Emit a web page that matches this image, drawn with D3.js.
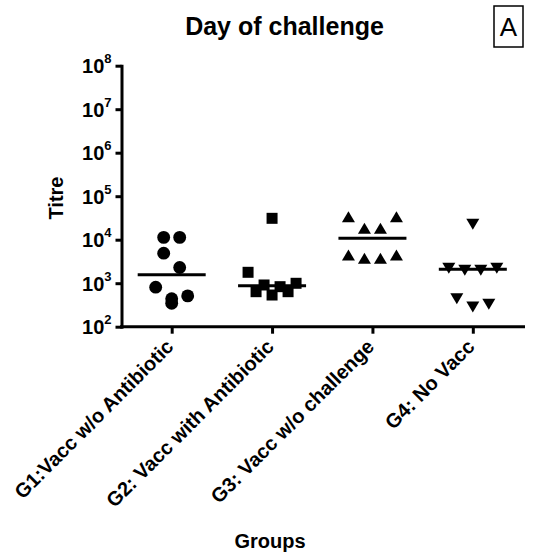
<!DOCTYPE html>
<html>
  <head>
    <meta charset="UTF-8">
    <title>Day of challenge</title>
    <style>
    body {
      margin: 0;
      background-color: white;
    }
    svg text {
      font-family: 'Liberation Sans', Arial, sans-serif;
      fill: black;
    }
    </style>
  </head>
  <body>
  <script src="https://d3js.org/d3.v7.min.js"></script>
  <script>
  // Groups on the x axis
  var groups = ['G1:Vacc w/o Antibiotic', 'G2: Vacc with Antibiotic', 'G3: Vacc w/o challenge', 'G4: No Vacc'];
  // Titre per animal
  var g1Titre = [11300, 11300, 4900, 2300, 810, 510, 440, 345];
  var g2Titre = [31000, 1780, 995, 910, 832, 638, 638, 535];
  var g3Titre = [32000, 32000, 17300, 17300, 4220, 4220, 3540, 3540];
  var g4Titre = [23800, 2320, 2320, 2090, 2090, 464, 345, 299];
  // y axis ticks (powers of ten)
  var yTicks = [1e2, 1e3, 1e4, 1e5, 1e6, 1e7, 1e8];

  var allTitre = [g1Titre, g2Titre, g3Titre, g4Titre];

  var width = 537, height = 554;
  var svg = d3.select('body').append('svg').attr('width', width).attr('height', height);

  var x = d3.scalePoint().domain(groups).range([121.5, 523]).padding(0.5);
  var y = d3.scaleLog().domain([1e2, 1e8]).range([326.7, 65.7]);

  // y axis
  var yAxis = svg.append('g')
    .attr('transform', 'translate(121.5,0)')
    .call(d3.axisLeft(y).tickValues(yTicks).tickSize(6).tickSizeOuter(0).tickPadding(4).tickFormat(function () { return ''; }));
  yAxis.select('.domain').attr('stroke-width', 3).attr('stroke-linecap', 'square');
  yAxis.selectAll('.tick line').attr('stroke-width', 3);
  yAxis.selectAll('.tick text').each(function (d) {
    var t = d3.select(this)
      .attr('font-size', 20).attr('font-weight', 'bold').attr('font-family', null).attr('dy', '0.35em');
    t.append('tspan').text('10');
    t.append('tspan').attr('font-size', 13).attr('dy', '-0.75em').text(Math.round(Math.log10(d)));
  });

  // x axis
  var xAxis = svg.append('g')
    .attr('transform', 'translate(0,326.7)')
    .call(d3.axisBottom(x).tickSize(7).tickSizeOuter(0).tickFormat(function () { return ''; }));
  xAxis.select('.domain').remove();
  xAxis.append('line').attr('x1', 120).attr('x2', 525).attr('stroke', 'black').attr('stroke-width', 3);
  xAxis.selectAll('.tick line').attr('stroke-width', 3);

  // category labels, turned 45 degrees
  svg.append('g').selectAll('text')
    .data(groups)
    .enter()
    .append('text')
    .attr('transform', function (d) { return 'translate(' + (x(d) + 3) + ',348) rotate(-45)'; })
    .attr('text-anchor', 'end')
    .attr('font-size', 20)
    .attr('font-weight', 'bold')
    .text(function (d) { return d; });

  // spread points that sit close together into rows
  function spread(values) {
    var pts = values.map(function (v) { return { v: v, y: y(v) }; })
      .sort(function (a, b) { return a.y - b.y; });
    var rows = [];
    pts.forEach(function (p) {
      var row = rows[rows.length - 1];
      if (row && p.y - row[0].y < 15) row.push(p); else rows.push([p]);
    });
    rows.forEach(function (row) {
      var n = row.length;
      var slots = d3.range(n).map(function (i) { return (i - (n - 1) / 2) * 16; });
      slots.sort(function (a, b) { return Math.abs(b) - Math.abs(a) || a - b; });
      row.forEach(function (p, i) { p.dx = slots[i]; });
    });
    return pts;
  }

  var symbols = [
    d3.symbol().type(d3.symbolCircle).size(130),
    d3.symbol().type(d3.symbolSquare).size(121),
    function () { return 'M0,-6.5L6.5,4.5L-6.5,4.5Z'; },
    function () { return 'M0,6.5L6.5,-4.5L-6.5,-4.5Z'; }
  ];

  allTitre.forEach(function (values, gi) {
    var cx = x(groups[gi]);
    var g = svg.append('g');
    g.selectAll('path')
      .data(spread(values))
      .enter()
      .append('path')
      .attr('d', symbols[gi])
      .attr('transform', function (p) { return 'translate(' + (cx + p.dx) + ',' + p.y + ')'; })
      .attr('fill', 'black');
    var med = y(d3.median(values));
    g.append('line')
      .attr('x1', cx - 34).attr('x2', cx + 34)
      .attr('y1', med).attr('y2', med)
      .attr('stroke', 'black').attr('stroke-width', 3);
  });

  // titles
  svg.append('text')
    .attr('x', 284.5).attr('y', 35)
    .attr('text-anchor', 'middle').attr('font-size', 25).attr('font-weight', 'bold')
    .text('Day of challenge');
  svg.append('text')
    .attr('transform', 'translate(63,198) rotate(-90)')
    .attr('text-anchor', 'middle').attr('font-size', 20).attr('font-weight', 'bold')
    .text('Titre');
  svg.append('text')
    .attr('x', 270).attr('y', 548)
    .attr('text-anchor', 'middle').attr('font-size', 20).attr('font-weight', 'bold')
    .text('Groups');

  // panel letter
  svg.append('rect')
    .attr('x', 494).attr('y', 6).attr('width', 29).attr('height', 41)
    .attr('fill', 'none').attr('stroke', 'black').attr('stroke-width', 1.5);
  svg.append('text')
    .attr('x', 508.5).attr('y', 36)
    .attr('text-anchor', 'middle').attr('font-size', 26)
    .text('A');
  </script>
  </body>
</html>
